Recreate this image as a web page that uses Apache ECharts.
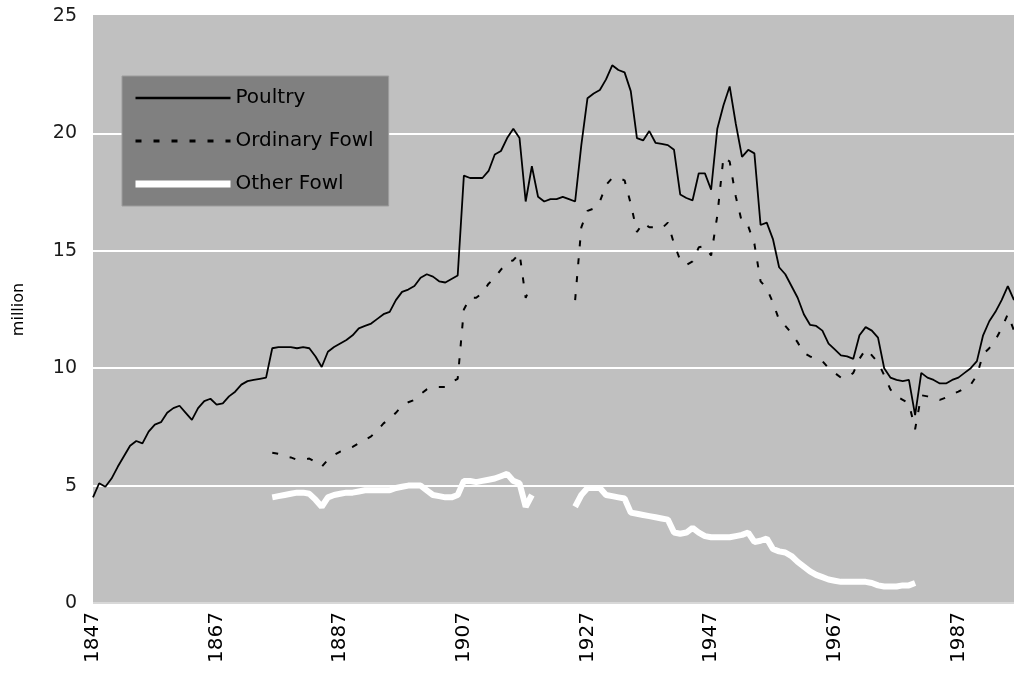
<!DOCTYPE html>
<html>
<head>
<meta charset="utf-8">
<script src="https://cdn.jsdelivr.net/npm/echarts/dist/echarts.min.js"></script>
<style>
  html, body { margin: 0; padding: 0; background: #ffffff; }
  #chart { width: 1014px; height: 679px; }
</style>
</head>
<body>
<div id="chart"></div>
<script>
// Poultry numbers, 1847-1996, in million head
const firstYear = 1847;
const lastYear = 1996;

// Total poultry, one value per year from 1847
const poultry = [
  4.5, 5.1, 4.95, 5.3, 5.8, 6.25, 6.7, 6.9, 6.8, 7.3,
  7.6, 7.7, 8.1, 8.3, 8.4, 8.1, 7.8, 8.3, 8.6, 8.7,
  8.45, 8.5, 8.8, 9.0, 9.3, 9.45, 9.5, 9.55, 9.6, 10.85,
  10.9, 10.9, 10.9, 10.85, 10.9, 10.85, 10.5, 10.05, 10.7, 10.9,
  11.05, 11.2, 11.4, 11.7, 11.8, 11.9, 12.1, 12.3, 12.4, 12.9,
  13.25, 13.35, 13.5, 13.85, 14.0, 13.9, 13.7, 13.65, 13.8, 13.95,
  18.2, 18.1, 18.1, 18.1, 18.4, 19.1, 19.25, 19.8, 20.2, 19.8,
  17.1, 18.6, 17.3, 17.1, 17.2, 17.2, 17.3, 17.2, 17.1, 19.5,
  21.5, 21.7, 21.85, 22.3, 22.9, 22.7, 22.6, 21.8, 19.8, 19.7,
  20.1, 19.6, 19.55, 19.5, 19.3, 17.4, 17.25, 17.15, 18.3, 18.3,
  17.6, 20.2, 21.2, 22.0, 20.4, 19.0, 19.3, 19.15, 16.1, 16.2,
  15.5, 14.3, 14.0, 13.5, 13.0, 12.3, 11.85, 11.8, 11.6, 11.05,
  10.8, 10.55, 10.5, 10.4, 11.4, 11.75, 11.6, 11.3, 10.0, 9.6,
  9.5, 9.45, 9.5, 8.0, 9.8, 9.6, 9.5, 9.35, 9.35, 9.5,
  9.6, 9.8, 10.0, 10.3, 11.4, 12.0, 12.4, 12.9, 13.5, 12.9
];

// Ordinary fowl, one value per year from 1876 (null = not recorded)
const ordinaryStart = 1876;
const ordinaryFowl = [
  6.4, 6.35, 6.25, 6.2, 6.1, 6.1, 6.15, 6.0, 5.8, 6.1,
  6.3, 6.45, 6.55, 6.65, 6.8, 6.95, 7.1, 7.35, 7.65, 7.85,
  8.1, 8.4, 8.55, 8.65, 8.9, 9.1, 9.2, 9.2, 9.2, 9.4,
  9.55, 12.5, 13.0, 13.0, 13.2, 13.6, 13.85, 14.2, 14.5, 14.6,
  14.9, 13.0, 13.6, null, null, null, null, null, null, 12.9,
  16.0, 16.7, 16.8, 17.1, 17.8, 18.1, 18.1, 18.0, 17.0, 15.8,
  16.2, 16.0, 16.0, 15.95, 16.2, 15.3, 14.6, 14.4, 14.55, 15.15,
  15.2, 14.8, 16.5, 19.0, 18.8, 17.3, 16.2, 16.05, 15.3, 13.7,
  13.4, 12.8, 12.05, 11.8, 11.5, 11.1, 10.65, 10.5, 10.4, 10.3,
  10.0, 9.8, 9.6, 9.6, 9.8, 10.4, 10.8, 10.55, 10.25, 9.7,
  9.1, 8.8, 8.65, 8.5, 7.4, 8.85, 8.8, 8.7, 8.65, 8.75,
  8.9, 9.0, 9.15, 9.3, 9.7, 10.6, 10.85, 11.2, 11.7, 12.3,
  11.6
];

// Other fowl, one value per year from 1876 to 1980 (null = not recorded)
const otherStart = 1876;
const otherFowl = [
  4.5, 4.55, 4.6, 4.65, 4.7, 4.7, 4.65, 4.4, 4.1, 4.5,
  4.6, 4.65, 4.7, 4.7, 4.75, 4.8, 4.8, 4.8, 4.8, 4.8,
  4.9, 4.95, 5.0, 5.0, 5.0, 4.8, 4.6, 4.55, 4.5, 4.5,
  4.6, 5.2, 5.2, 5.15, 5.2, 5.25, 5.3, 5.4, 5.5, 5.2,
  5.1, 4.1, 4.6, null, null, null, null, null, null, 4.1,
  4.6, 4.9, 4.9, 4.9, 4.6, 4.55, 4.5, 4.45, 3.85, 3.8,
  3.75, 3.7, 3.65, 3.6, 3.55, 3.0, 2.95, 3.0, 3.2, 3.0,
  2.85, 2.8, 2.8, 2.8, 2.8, 2.85, 2.9, 3.0, 2.6, 2.65,
  2.75, 2.3, 2.2, 2.15, 2.0, 1.75, 1.55, 1.35, 1.2, 1.1,
  1.0, 0.95, 0.9, 0.9, 0.9, 0.9, 0.9, 0.85, 0.75, 0.7,
  0.7, 0.7, 0.75, 0.75, 0.85
];

const seriesNames = ['Poultry', 'Ordinary Fowl', 'Other Fowl'];
const yAxisName = 'million';

// Year categories along the horizontal axis
const years = [];
for (let y = firstYear; y <= lastYear; y++) years.push(String(y));

// Place a series that starts later than the axis onto the full year range
function alignToYears(values, start) {
  const out = new Array(start - firstYear).fill(null).concat(values);
  while (out.length < years.length) out.push(null);
  return out;
}

const FONT = 'DejaVu Sans';

// Line styles shared by the plotted series and their legend keys
const poultryLine = { color: '#000000', width: 1.8 };
const ordinaryLine = { color: '#000000', width: 2, type: [6, 12] };
const otherLine = { color: '#ffffff', width: 6 };

const chart = echarts.init(document.getElementById('chart'), null, { renderer: 'canvas' });

chart.setOption({
  animation: false,
  backgroundColor: '#ffffff',
  textStyle: { fontFamily: FONT },
  grid: {
    left: 93, right: 0, top: 16, bottom: 76,
    show: true,
    backgroundColor: '#c0c0c0',
    borderWidth: 0,
    containLabel: false
  },
  legend: {
    data: [
      { name: seriesNames[0], itemStyle: { opacity: 0 }, lineStyle: { width: 2.5, color: '#000000' } },
      { name: seriesNames[1], itemStyle: { opacity: 0 }, lineStyle: { width: 3, color: '#000000', type: [6, 12] } },
      { name: seriesNames[2], itemStyle: { opacity: 0 }, lineStyle: { width: 7, color: '#ffffff' } }
    ],
    orient: 'vertical',
    left: 122,
    top: 76,
    padding: [12, 15, 12, 10],
    itemGap: 23,
    itemWidth: 95,
    itemHeight: 20,
    itemStyle: { opacity: 0 },
    backgroundColor: '#808080',
    borderColor: '#9c9c9c',
    borderWidth: 1,
    textStyle: { fontFamily: FONT, fontSize: 20, color: '#000000', lineHeight: 20 }
  },
  xAxis: {
    type: 'category',
    data: years,
    boundaryGap: false,
    axisLine: { show: false },
    axisTick: { show: false },
    splitLine: { show: false },
    axisLabel: {
      interval: 19,
      rotate: 90,
      margin: 9,
      fontFamily: FONT,
      fontSize: 20,
      color: '#000000'
    }
  },
  yAxis: {
    type: 'value',
    min: 0,
    max: 25,
    interval: 5,
    name: yAxisName,
    nameLocation: 'middle',
    nameRotate: 90,
    nameGap: 66,
    nameTextStyle: { fontFamily: FONT, fontSize: 16, color: '#000000' },
    axisLine: { show: false },
    axisTick: { show: false },
    axisLabel: {
      margin: 16,
      fontFamily: FONT,
      fontSize: 19,
      color: '#1a1a1a'
    },
    splitLine: {
      show: true,
      lineStyle: {
        color: ['#d8d8d8', '#ffffff', '#ffffff', '#ffffff', '#ffffff', '#c0c0c0'],
        width: 2
      }
    }
  },
  series: [
    {
      name: seriesNames[0],
      type: 'line',
      data: poultry,
      symbol: 'none',
      z: 4,
      lineStyle: poultryLine,
      itemStyle: { color: '#000000' }
    },
    {
      name: seriesNames[1],
      type: 'line',
      data: alignToYears(ordinaryFowl, ordinaryStart),
      symbol: 'none',
      connectNulls: false,
      z: 3,
      lineStyle: ordinaryLine,
      itemStyle: { color: '#000000' }
    },
    {
      name: seriesNames[2],
      type: 'line',
      data: alignToYears(otherFowl, otherStart),
      symbol: 'none',
      connectNulls: false,
      z: 2,
      lineStyle: otherLine,
      itemStyle: { color: '#ffffff' }
    }
  ]
});
</script>
</body>
</html>
